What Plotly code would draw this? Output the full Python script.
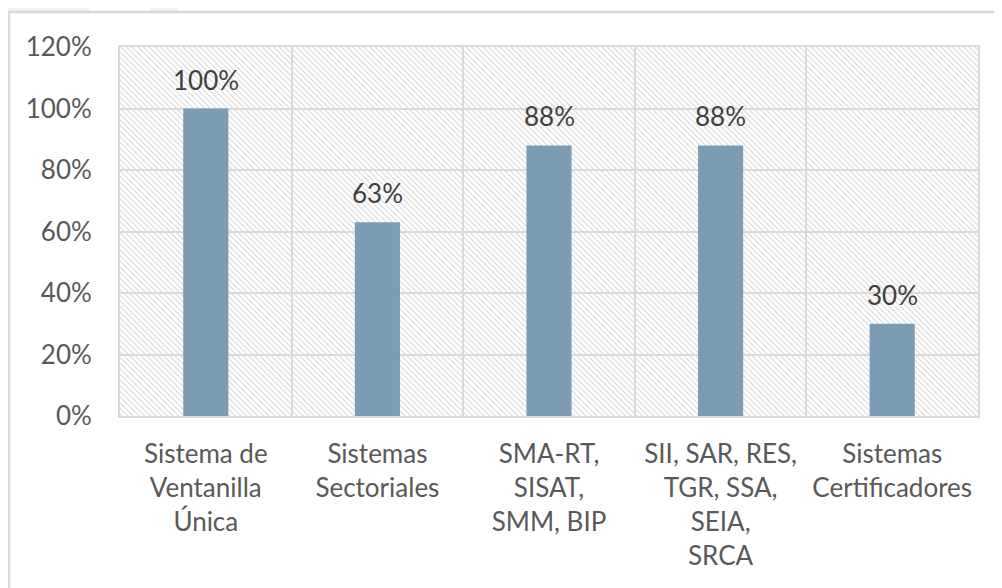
import base64
import plotly.graph_objects as go

categories = [
    "Sistema de<br>Ventanilla<br>Única",
    "Sistemas<br>Sectoriales",
    "SMA-RT,<br>SISAT,<br>SMM, BIP",
    "SII, SAR, RES,<br>TGR, SSA,<br>SEIA,<br>SRCA",
    "Sistemas<br>Certificadores",
]
values = [1.00, 0.63, 0.88, 0.88, 0.30]
y_ticks = [0, 0.2, 0.4, 0.6, 0.8, 1.0, 1.2]

FONT = "Lato, 'Open Sans', sans-serif"
BAR = "#7b9cb2"
GRID = "#d9d9d9"

OFF = 8  # default page body margin
W, H = 1002 - OFF, 588 - OFF
ML, MT = 120 - OFF, 47 - OFF
PW, PH = 858, 369
MR, MB = W - ML - PW, H - MT - PH

# hatch background as an svg pattern image
svg = (
    f'<svg xmlns="http://www.w3.org/2000/svg" width="{PW}" height="{PH}" viewBox="0 0 {PW} {PH}">'
    '<defs><pattern id="h" patternUnits="userSpaceOnUse" width="4" height="4" patternTransform="rotate(-45)">'
    '<rect x="0" y="0" width="4" height="4" fill="#ffffff"/>'
    '<rect x="0" y="0" width="1.1" height="4" fill="#d9d9d9"/>'
    '</pattern></defs>'
    f'<rect x="0" y="0" width="{PW}" height="{PH}" fill="url(#h)"/></svg>'
)
hatch_src = "data:image/svg+xml;base64," + base64.b64encode(svg.encode()).decode()

fig = go.Figure()
fig.add_trace(go.Bar(x=categories, y=values, marker=dict(color=BAR, line=dict(width=0)),
                     hoverinfo="skip"))

for c, v in zip(categories, values):
    fig.add_annotation(x=c, y=v, text=f"{v:.0%}", showarrow=False, yanchor="middle",
                       yshift=29, font=dict(family=FONT, size=26, color="#404040"))

fig.add_layout_image(dict(source=hatch_src, xref="x domain", yref="y domain", x=0, y=1,
                          sizex=1, sizey=1, xanchor="left", yanchor="top",
                          sizing="stretch", layer="below"))

# page decoration (page pixel coordinates -> paper)
px = lambda p: (p - OFF - ML) / PW
py = lambda p: (OFF + MT + PH - p) / PH
fig.add_shape(type="rect", xref="paper", yref="paper", x0=px(0), x1=px(89), y0=py(11), y1=py(0),
              fillcolor="#eef3f8", line=dict(width=0), layer="below")
fig.add_shape(type="rect", xref="paper", yref="paper", x0=px(150), x1=px(178), y0=py(11), y1=py(0),
              fillcolor="#eef3f8", line=dict(width=0), layer="below")
fig.add_shape(type="rect", xref="paper", yref="paper", x0=px(9), x1=px(1015), y0=py(600), y1=py(12),
              fillcolor="rgba(0,0,0,0)", line=dict(color=GRID, width=2.5), layer="below")

fig.update_layout(
    width=W, height=H,
    margin=dict(l=ML, r=MR, t=MT, b=MB),
    paper_bgcolor="white", plot_bgcolor="rgba(0,0,0,0)",
    bargap=0.737, showlegend=False,
    font=dict(family=FONT, size=26, color="#595959"),
)
fig.update_xaxes(type="category", tickson="boundaries", showgrid=True, gridcolor=GRID, gridwidth=2,
                 showline=True, mirror=True, linecolor=GRID, linewidth=2, ticks="",
                 ticklabelstandoff=14, tickfont=dict(family=FONT, size=26, color="#595959"))
fig.update_yaxes(range=[0, 1.2], tickvals=y_ticks, tickformat=".0%", showgrid=True, gridcolor=GRID,
                 gridwidth=2, showline=True, mirror=True, linecolor=GRID, linewidth=2, ticks="",
                 zeroline=False, ticklabelstandoff=21,
                 tickfont=dict(family=FONT, size=26, color="#595959"))

fig.write_html("out.html")
